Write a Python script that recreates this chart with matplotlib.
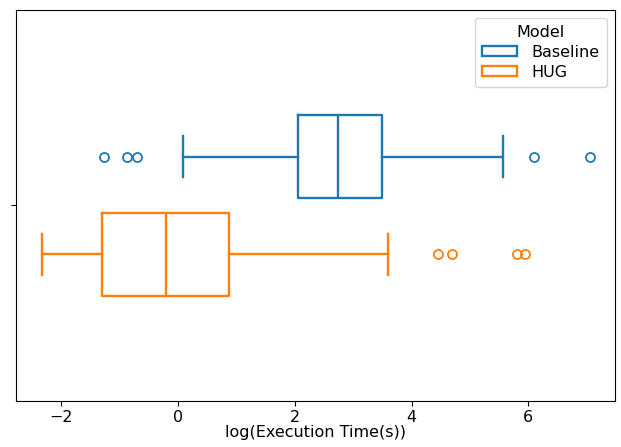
import matplotlib
matplotlib.use("Agg")
import matplotlib.pyplot as plt
from matplotlib.patches import Patch

plt.rcParams["font.size"] = 11.5

# box statistics (log execution time)
models = ["Baseline", "HUG"]
colors = ["#1f77b4", "#ff7f0e"]
whislo = [0.09, -2.32]
q1 = [2.06, -1.30]
med = [2.74, -0.21]
q3 = [3.50, 0.87]
whishi = [5.56, 3.60]
fliers = [[-1.27, -0.87, -0.70, 6.09, 7.05],
          [4.46, 4.70, 5.80, 5.95]]

fig = plt.figure(figsize=(6.21, 4.47), dpi=100)
ax = fig.add_axes([0.026, 0.103, 0.964, 0.875])

positions = [-0.2, 0.2]
for i in range(len(models)):
    stats = [{"whislo": whislo[i], "q1": q1[i], "med": med[i], "q3": q3[i],
              "whishi": whishi[i], "fliers": fliers[i]}]
    c = colors[i]
    ax.bxp(stats, positions=[positions[i]], widths=0.34, vert=False,
           manage_ticks=False,
           boxprops=dict(color=c, lw=1.7),
           medianprops=dict(color=c, lw=1.7),
           whiskerprops=dict(color=c, lw=1.7),
           capprops=dict(color=c, lw=1.7),
           flierprops=dict(marker="o", markerfacecolor="none",
                           markeredgecolor=c, markersize=6.5, mew=1.3))

ax.set_ylim(0.8, -0.8)
ax.set_yticks([0])
ax.set_yticklabels([""])
ax.set_xlim(-2.77, 7.48)
ax.tick_params(axis="x", pad=3)
ax.set_xlabel("log(Execution Time(s))", labelpad=0)

handles = [Patch(facecolor="none", edgecolor=c, lw=1.7, label=m)
           for m, c in zip(models, colors)]
ax.legend(handles=handles, title="Model", loc="upper right",
          title_fontsize=11.5, labelspacing=0.3, borderpad=0.45,
          handleheight=0.55, handlelength=2.2, handletextpad=0.9)

plt.savefig("out.png", dpi=100)
